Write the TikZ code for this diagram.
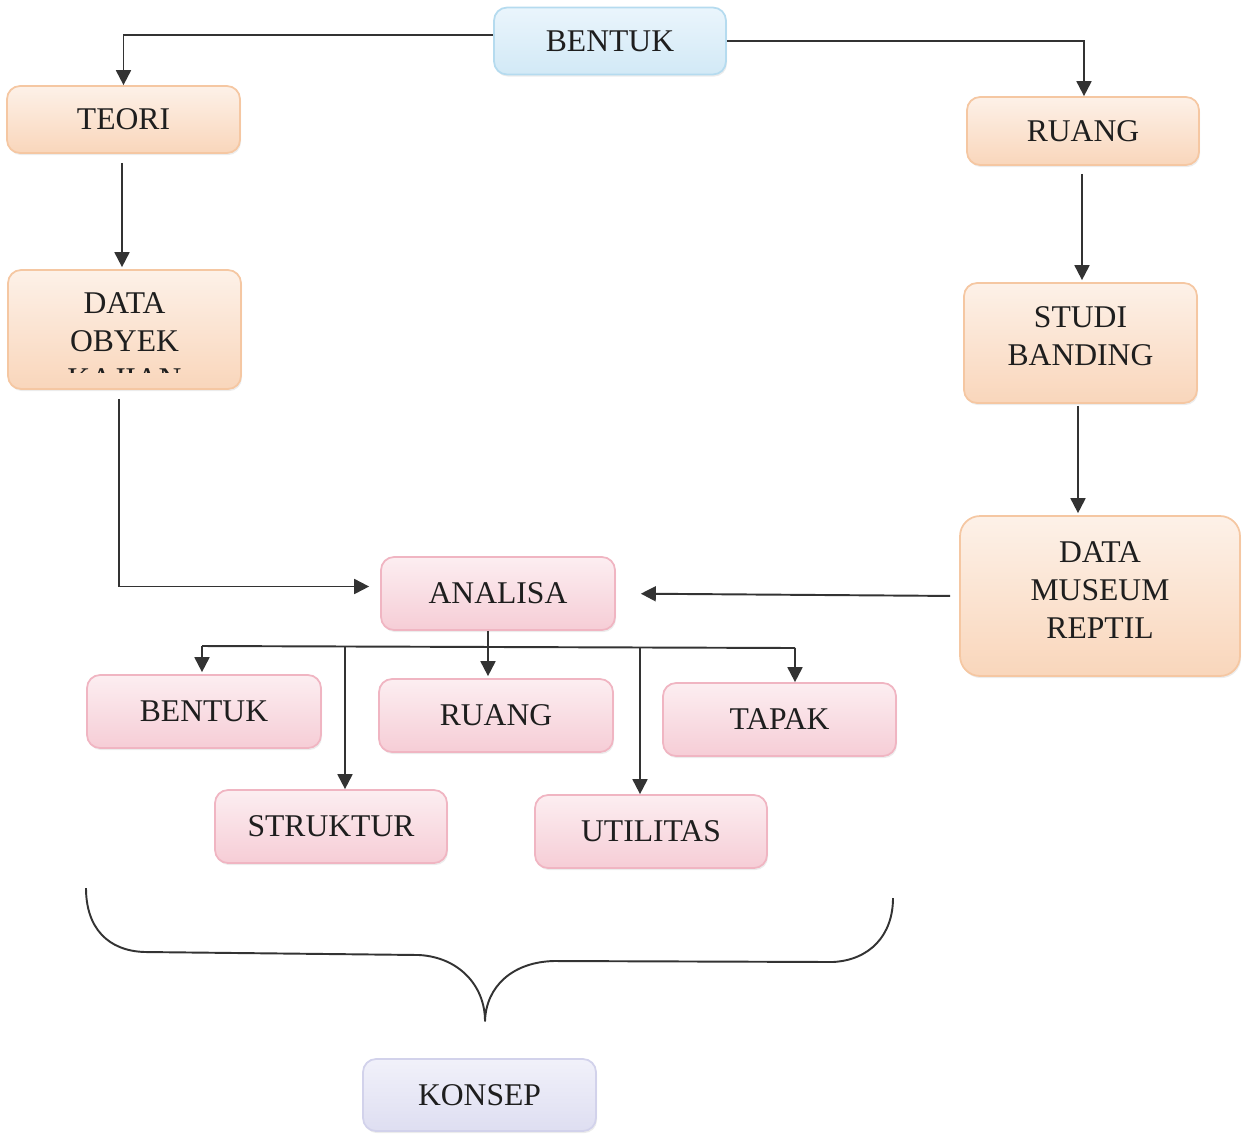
\documentclass[tikz,border=0pt]{standalone}
\usepackage{fontspec}
\setmainfont{Liberation Serif}
\usetikzlibrary{arrows.meta,shadows}

\definecolor{ink}{HTML}{333333}
\definecolor{txtc}{HTML}{1E1E1E}
% orange family
\definecolor{oBorder}{HTML}{F5C7A2}
\definecolor{oTop}{HTML}{FDF1E8}
\definecolor{oMid}{HTML}{FEF8F3}
\definecolor{oBot}{HTML}{F9D6BB}
% pink family
\definecolor{pBorder}{HTML}{F0B5C2}
\definecolor{pTop}{HTML}{FCEEF1}
\definecolor{pMid}{HTML}{FEF7F8}
\definecolor{pBot}{HTML}{F6CDD6}
% blue family
\definecolor{bBorder}{HTML}{B5DBEF}
\definecolor{bTop}{HTML}{EAF5FC}
\definecolor{bMid}{HTML}{F4FAFD}
\definecolor{bBot}{HTML}{D2E9F6}
% lavender family
\definecolor{lBorder}{HTML}{D2D2EB}
\definecolor{lTop}{HTML}{F1F1FA}
\definecolor{lMid}{HTML}{F8F8FD}
\definecolor{lBot}{HTML}{DEDEF1}

\tikzset{
  basebox/.style={draw, line width=1pt, rounded corners=0.26cm, inner sep=0pt,
    text=txtc, align=center, font=\fontsize{18}{21.5}\selectfont,
    drop shadow={opacity=0.15, shadow xshift=0.6pt, shadow yshift=-1.2pt}},
  obox/.style={basebox, draw=oBorder, top color=oTop, middle color=oMid, bottom color=oBot},
  pbox/.style={basebox, draw=pBorder, top color=pTop, middle color=pMid, bottom color=pBot},
  bbox/.style={basebox, draw=bBorder, top color=bTop, middle color=bMid, bottom color=bBot},
  lbox/.style={basebox, draw=lBorder, top color=lTop, middle color=lMid, bottom color=lBot},
  txt/.style={text=txtc, align=center, inner sep=0pt, font=\fontsize{18}{21.5}\selectfont},
  wire/.style={draw=ink, line width=1.1pt},
  arr/.style={wire, -{Triangle[length=8.5pt,width=8.5pt]}},
}

\begin{document}
\begin{tikzpicture}[x=0.02cm, y=-0.02cm]
\useasboundingbox (0,0) rectangle (1243,1133);

% top row
\node[bbox, minimum width=4.64cm, minimum height=1.34cm] (bentuk) at (610,41) {BENTUK};
\node[obox, minimum width=4.66cm, minimum height=1.34cm] (teori) at (123.5,119.5) {TEORI};
\node[obox, minimum width=4.64cm, minimum height=1.36cm] (ruang) at (1083,131) {RUANG};

% data sources
\node[obox, minimum width=4.66cm, minimum height=2.38cm] (dataobyek) at (124.5,329.5) {};
\begin{scope}
  \clip (8,270) rectangle (241,372);
  \node[txt] at (124.5,341) {DATA\\OBYEK\\KAJIAN};
\end{scope}
\node[obox, minimum width=4.66cm, minimum height=2.40cm] (studi) at (1080.5,343) {};
\node[txt] at (1080.5,336) {STUDI\\BANDING};
\node[obox, minimum width=5.60cm, minimum height=3.20cm, rounded corners=0.4cm] (museum) at (1100,596) {};
\node[txt] at (1100,590) {DATA\\MUSEUM\\REPTIL};

% analysis
\node[pbox, minimum width=4.68cm, minimum height=1.46cm] (analisa) at (498,593.5) {ANALISA};
\node[pbox, minimum width=4.68cm, minimum height=1.46cm] (bentukb) at (204,711.5) {BENTUK};
\node[pbox, minimum width=4.68cm, minimum height=1.46cm] (ruangb) at (496,715.5) {RUANG};
\node[pbox, minimum width=4.66cm, minimum height=1.46cm] (tapak) at (779.5,719.5) {TAPAK};
\node[pbox, minimum width=4.64cm, minimum height=1.46cm] (struktur) at (331,826.5) {STRUKTUR};
\node[pbox, minimum width=4.64cm, minimum height=1.46cm] (utilitas) at (651,831.5) {UTILITAS};

% concept
\node[lbox, minimum width=4.66cm, minimum height=1.44cm] (konsep) at (479.5,1095) {KONSEP};

% connectors from the top
\draw[arr] ([yshift=0.12cm]bentuk.west) -| (teori.north);
\draw[arr] (bentuk.east) -| ([xshift=0.02cm]ruang.north);
\draw[arr, shorten <=0.18cm, shorten >=0.04cm] ([xshift=-0.03cm]teori.south) -- ([xshift=-0.03cm]teori.south |- dataobyek.north);
\draw[arr, shorten <=0.16cm, shorten >=0.04cm] ([xshift=-0.02cm]ruang.south) -- ([xshift=-0.02cm]ruang.south |- studi.north);
\draw[arr, shorten <=0.04cm, shorten >=0.04cm] ([xshift=-0.05cm]studi.south) -- ([xshift=-0.05cm]studi.south |- museum.north);

% into the analysis
\draw[arr, shorten <=0.18cm, shorten >=0.22cm] ([xshift=-0.11cm]dataobyek.south) |- ([yshift=0.14cm]analisa.west);
\draw[arr, shorten <=0.18cm, shorten >=0.5cm] (museum.west) -- (analisa.east);

% distribution bus below the analysis
\coordinate (busL) at (202,646);
\coordinate (busS) at (345,646);
\coordinate (busU) at (640,647);
\coordinate (busR) at (795,648);
\draw[wire] (busL) -- (busR);
\draw[arr, shorten >=0.04cm] ([xshift=-0.2cm]analisa.south) -- ([xshift=-0.2cm]analisa.south |- ruangb.north);
\draw[arr, shorten >=0.04cm] (busL) -- (busL |- bentukb.north);
\draw[arr] (busS) -- (busS |- struktur.north);
\draw[arr] (busU) -- (busU |- utilitas.north);
\draw[arr] (busR) -- (busR |- tapak.north);

% brace gathering the aspects into the concept
\draw[ink, line width=1.1pt, line join=round]
  (86,888) .. controls (86,928) and (108,951) .. (145,952)
  -- (419,955)
  .. controls (458,957) and (485,985) .. (485,1021)
  .. controls (486,987) and (512,962) .. (554,961)
  -- (833,962)
  .. controls (870,960) and (893,935) .. (893,898);

\end{tikzpicture}
\end{document}
